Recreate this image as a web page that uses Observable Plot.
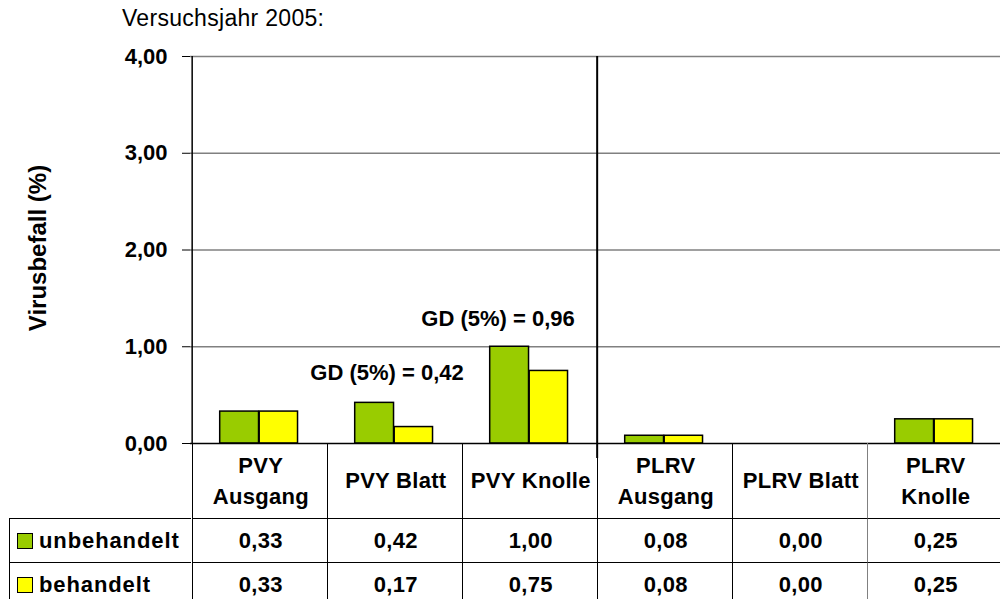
<!DOCTYPE html>
<html>
<head>
<meta charset="utf-8">
<script src="https://cdn.jsdelivr.net/npm/d3@7"></script>
<script src="https://cdn.jsdelivr.net/npm/@observablehq/plot@0.6"></script>
<style>
  html, body { margin: 0; padding: 0; background: #fff; overflow: hidden; }
  body { font-family: "Liberation Sans", Arial, sans-serif; color: #000; }
  #wrap { position: relative; width: 1000px; height: 599px; overflow: hidden; }
  #title { position: absolute; left: 122px; top: 7px; font-size: 23px; line-height: 23px; letter-spacing: 0.3px; white-space: nowrap; z-index: 2; }
  #chart { position: absolute; left: 0; top: 0; }
  .cell { position: absolute; box-sizing: border-box; display: flex; align-items: center; justify-content: center;
          text-align: center; font-weight: bold; font-size: 22px; letter-spacing: 0.3px; white-space: pre-line; line-height: 31px; }
  .leg { justify-content: flex-start; letter-spacing: 0.9px; }
  .sw { display: inline-block; width: 16px; height: 16px; box-sizing: border-box; border: 1.5px solid #000; margin: 0 6px 0 7px; }
</style>
</head>
<body>
<div id="wrap">
  <div id="title"></div>
  <div id="chart"></div>
</div>
<script>
// ---- data ----
const title = "Versuchsjahr 2005:";
const yLabel = "Virusbefall (%)";
const categories = ["PVY Ausgang", "PVY Blatt", "PVY Knolle", "PLRV Ausgang", "PLRV Blatt", "PLRV Knolle"];
const categoryLabels = ["PVY\nAusgang", "PVY Blatt", "PVY Knolle", "PLRV\nAusgang", "PLRV Blatt", "PLRV\nKnolle"];
const seriesNames = ["unbehandelt", "behandelt"];
const unbehandelt = [0.33, 0.42, 1.00, 0.08, 0.00, 0.25];
const behandelt = [0.33, 0.17, 0.75, 0.08, 0.00, 0.25];
const seriesColors = ["#99CC00", "#FFFF00"];
const yTicks = [0, 1, 2, 3, 4];
const gdCategories = ["PVY Blatt", "PVY Knolle"];
const gdTexts = ["GD (5%) = 0,42", "GD (5%) = 0,96"];
const gdY = [0.73, 1.29];
const gdDx = [-8, -32];

// ---- layout ----
const W = 1000, H = 599, mL = 190, mR = -4, mT = 56, mB = 156;
const step = (W - mR - mL) / categories.length;
const inset0 = 27.7, barW0 = 39.5, barW1 = 39;
const pxPerUnit = (H - mT - mB) / (yTicks[yTicks.length - 1] - yTicks[0]);
const fmt = d => d.toFixed(2).replace(".", ",");
const font = '"Liberation Sans", Arial, sans-serif';

const rows0 = categories.map((c, i) => ({c, v: unbehandelt[i]}));
const rows1 = categories.map((c, i) => ({c, v: behandelt[i]}));

document.getElementById("title").textContent = title;

const chart = Plot.plot({
  width: W, height: H,
  marginLeft: mL, marginRight: mR, marginTop: mT, marginBottom: mB,
  style: {fontFamily: font, fontSize: "22px", background: "transparent", overflow: "visible", color: "#000"},
  x: {domain: categories, padding: 0, axis: null},
  y: {domain: [yTicks[0], yTicks[yTicks.length - 1]]},
  marks: [
    Plot.gridY({ticks: yTicks.slice(1), stroke: "#808080", strokeOpacity: 1, strokeWidth: 1.5}),
    Plot.barY(rows0, {x: "c", y: "v", fill: seriesColors[0], stroke: "#000", strokeWidth: 1.5,
      insetLeft: inset0, insetRight: step - inset0 - barW0}),
    Plot.barY(rows1, {x: "c", y: "v", fill: seriesColors[1], stroke: "#000", strokeWidth: 1.5,
      insetLeft: inset0 + barW0, insetRight: step - inset0 - barW0 - barW1}),
    Plot.ruleY([0], {stroke: "#000", strokeWidth: 1.5}),
    Plot.axisY({ticks: yTicks, tickSize: 8, tickPadding: 15, tickFormat: fmt, label: null,
      fontWeight: "bold", fontSize: 22, stroke: "#000"}),
    Plot.ruleX([categories[0]], {dx: -step / 2, y1: 0, y2: yTicks[yTicks.length - 1], stroke: "#000", strokeWidth: 1.5}),
    Plot.ruleX([categories[3]], {dx: -step / 2, y1: yTicks[yTicks.length - 1], y2: -15 / pxPerUnit, stroke: "#000", strokeWidth: 2}),
    ...gdTexts.map((t, i) => Plot.text([{c: gdCategories[i], y: gdY[i], t}],
      {x: "c", y: "y", text: "t", dx: gdDx[i], fontWeight: "bold", fontSize: 22, fill: "#000"})),
    Plot.text([yLabel], {frameAnchor: "left", textAnchor: "middle", dx: -152, dy: -2, rotate: -90,
      fontWeight: "bold", fontSize: 24, fill: "#000"})
  ]
});
document.getElementById("chart").appendChild(chart);

// ---- data table below the chart, aligned with Plot's x scale ----
const xs = chart.scale("x");
const y0 = chart.scale("y").apply(0);
const wrap = document.getElementById("wrap");
const headH = 75, rowH = 44;
function cell(left, top, width, height, html, cls, borders) {
  const d = document.createElement("div");
  d.className = "cell" + (cls ? " " + cls : "");
  Object.assign(d.style, {left: left + "px", top: top + "px", width: width + "px", height: height + "px"}, borders);
  if (typeof html === "string") d.textContent = html; else d.appendChild(html);
  wrap.appendChild(d);
  return d;
}
const line = "1.5px solid #000";
categories.forEach((c, i) => {
  const x = xs.apply(c);
  const bl = i === 5 ? "1.5px solid #808080" : line;
  cell(x, y0, step + 1, headH, categoryLabels[i], "", {borderLeft: bl});
  cell(x, y0 + headH, step + 1, rowH, fmt(unbehandelt[i]), "", {borderLeft: bl, borderTop: line});
  cell(x, y0 + headH + rowH, step + 1, rowH, fmt(behandelt[i]), "", {borderLeft: bl, borderTop: line});
});
seriesNames.forEach((s, j) => {
  const frag = document.createElement("span");
  frag.style.display = "flex"; frag.style.alignItems = "center";
  const sw = document.createElement("span");
  sw.className = "sw"; sw.style.background = seriesColors[j];
  const t = document.createElement("span"); t.textContent = s;
  frag.appendChild(sw); frag.appendChild(t);
  cell(9, y0 + headH + j * rowH, mL - 9 + 1, rowH, frag, "leg", {borderLeft: line, borderTop: line});
});
</script>
</body>
</html>
